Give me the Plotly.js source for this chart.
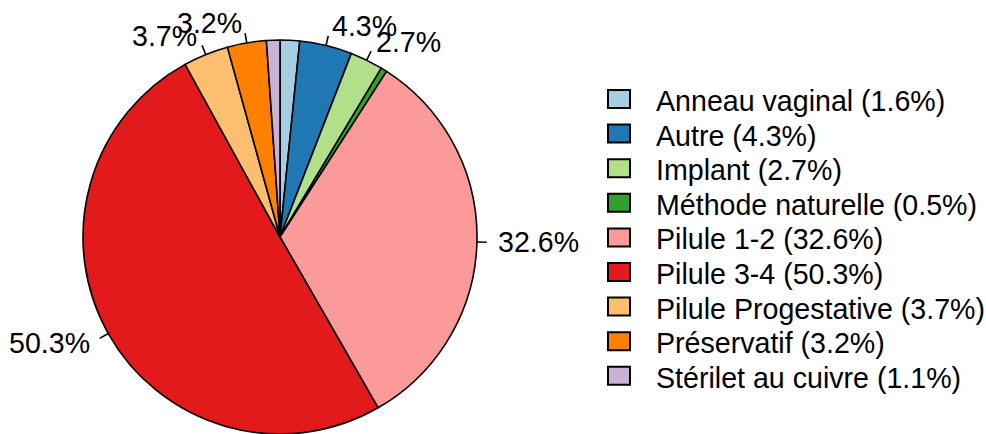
<!DOCTYPE html>
<html>
<head>
<meta charset="utf-8">
<script src="https://cdn.plot.ly/plotly-3.0.1.min.js"></script>
<style>
html, body { margin: 0; padding: 0; background: #ffffff; overflow: hidden; }
#chart { width: 986px; height: 434px; }
</style>
</head>
<body>
<div id="chart"></div>
<script>
// ---- data ----
const categories = ["Anneau vaginal", "Autre", "Implant", "Méthode naturelle", "Pilule 1-2",
                    "Pilule 3-4", "Pilule Progestative", "Préservatif", "Stérilet au cuivre"];
const percents = [1.6, 4.3, 2.7, 0.5, 32.6, 50.3, 3.7, 3.2, 1.1];
const sliceLabels = ["", "4.3%", "2.7%", "", "32.6%", "50.3%", "3.7%", "3.2%", ""];
const colors = ["#A6CEE3", "#1F78B4", "#B2DF8A", "#33A02C", "#FB9A99",
                "#E31A1C", "#FDBF6F", "#FF7F00", "#CAB2D6"];

// ---- layout geometry ----
const W = 986, H = 434;
const cx = 280, cy = 237, r = 197;
const FONT = "Arial, 'Liberation Sans', sans-serif";
const FS = 28.6;
const px2x = p => p / W;
const py2y = p => 1 - p / H;

const legendText = categories.map((c, i) => c + " (" + percents[i].toFixed(1) + "%)");

const trace = {
  type: "pie",
  labels: categories,
  values: percents,
  sort: false,
  direction: "clockwise",
  rotation: 0,
  textinfo: "none",
  hoverinfo: "label+percent",
  marker: { colors: colors, line: { color: "#000000", width: 1.6 } },
  domain: { x: [px2x(cx - r), px2x(cx + r)], y: [0, py2y(cy - r)] },
  showlegend: false
};

const shapes = [];
const annotations = [];

// slice labels with tick lines (pie-style, from data angles)
const total = percents.reduce((a, b) => a + b, 0);
let cum = 0;
percents.forEach((v, i) => {
  const mid = (cum + v / 2) / total;
  cum += v;
  const lab = sliceLabels[i];
  if (!lab) return;
  const th = 2 * Math.PI * mid;
  const sx = Math.sin(th), sy = Math.cos(th);
  shapes.push({
    type: "line", xref: "paper", yref: "paper",
    x0: px2x(cx + r * sx), y0: py2y(cy - r * sy),
    x1: px2x(cx + 1.05 * r * sx), y1: py2y(cy - 1.05 * r * sy),
    line: { color: "#000000", width: 1.6 }
  });
  annotations.push({
    xref: "paper", yref: "paper",
    x: px2x(cx + 1.1 * r * sx), y: py2y(cy - 1.1 * r * sy),
    text: lab, showarrow: false,
    xanchor: sx < 0 ? "right" : "left", yanchor: "middle",
    borderpad: 0,
    font: { family: FONT, size: FS, color: "#000000" }
  });
});

// legend (boxes + text)
const legX0 = 608, legX1 = 630, legY0 = 99, legStep = 34.6, boxH = 18, textX = 655;
legendText.forEach((t, i) => {
  const yc = legY0 + i * legStep;
  shapes.push({
    type: "rect", xref: "paper", yref: "paper",
    x0: px2x(legX0), x1: px2x(legX1),
    y0: py2y(yc - boxH / 2), y1: py2y(yc + boxH / 2),
    fillcolor: colors[i], line: { color: "#000000", width: 2 }
  });
  annotations.push({
    xref: "paper", yref: "paper",
    x: px2x(textX), y: py2y(yc + 2),
    text: t, showarrow: false,
    xanchor: "left", yanchor: "middle", borderpad: 0,
    font: { family: FONT, size: FS, color: "#000000" }
  });
});

const layout = {
  width: W, height: H,
  margin: { l: 0, r: 0, t: 0, b: 0, pad: 0 },
  paper_bgcolor: "#ffffff",
  plot_bgcolor: "#ffffff",
  showlegend: false,
  shapes: shapes,
  annotations: annotations,
  font: { family: FONT, size: FS, color: "#000000" }
};

Plotly.newPlot("chart", [trace], layout, { displayModeBar: false, staticPlot: true });
</script>
</body>
</html>
